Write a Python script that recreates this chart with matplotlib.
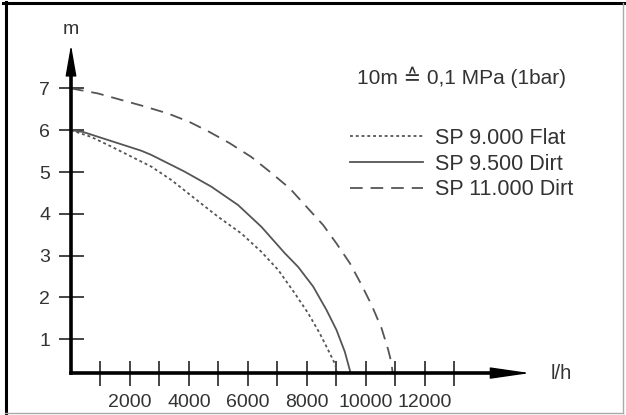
import matplotlib
matplotlib.use('Agg')
import matplotlib.pyplot as plt
from matplotlib.lines import Line2D

plt.rcParams['font.family'] = ['Liberation Sans', 'DejaVu Sans']

# ── data (flow l/h, head m) ─────────────────────────────────────────────────
FLOW_FLAT = [0, 683, 1363, 2722, 3402, 4193, 4988, 5780, 6460, 7027, 7591,
             8046, 8440, 8726, 8950, 9042]
HEAD_FLAT = [6.0, 5.84, 5.61, 5.13, 4.81, 4.37, 3.93, 3.53, 3.09, 2.66, 2.10,
             1.62, 1.14, 0.74, 0.42, 0.19]

FLOW_9500 = [0, 401, 2382, 2722, 3853, 4760, 5668, 6459, 7251, 7706, 8216,
             8668, 9008, 9290, 9460, 9484]
HEAD_9500 = [6.0, 5.96, 5.51, 5.41, 5.01, 4.65, 4.21, 3.69, 3.06, 2.73, 2.26,
             1.70, 1.22, 0.70, 0.26, 0.19]

FLOW_11000 = [0, 911, 2440, 3289, 4013, 4692, 5382, 6117, 6741, 7421, 7988,
              8556, 9008, 9460, 9857, 10197, 10537, 10765, 10877, 10911]
HEAD_11000 = [7.0, 6.88, 6.58, 6.40, 6.20, 5.96, 5.69, 5.36, 5.01, 4.61, 4.17,
              3.73, 3.29, 2.82, 2.30, 1.82, 1.26, 0.74, 0.42, 0.19]

LABELS = ['SP 9.000 Flat', 'SP 9.500 Dirt', 'SP 11.000 Dirt']
X_TICKS = list(range(1000, 14000, 1000))
X_TICKLABELS = [str(v) if v % 2000 == 0 else '' for v in X_TICKS]
Y_TICKS = list(range(1, 8))
NOTE = '10m \u2259 0,1 MPa (1bar)'

# ── layout constants ────────────────────────────────────────────────────────
W, H = 626, 415
BASE_H = 0.19          # height at which the flow axis is drawn
X_LIM = (-2409, 18830)
Y_LIM = (-0.813, 9.115)
CURVE = '#555555'
TXT = '#333333'

fig = plt.figure(figsize=(W / 100, H / 100), dpi=100)
ax = fig.add_axes([0, 0, 1, 1])
ax.patch.set_alpha(0)
ax.set_xlim(*X_LIM)
ax.set_ylim(*Y_LIM)

ax.plot(FLOW_FLAT, HEAD_FLAT, color=CURVE, lw=1.3, dashes=(1.6, 1.6),
        label=LABELS[0])
ax.plot(FLOW_9500, HEAD_9500, color=CURVE, lw=1.3, label=LABELS[1])
ax.plot(FLOW_11000, HEAD_11000, color=CURVE, lw=1.3, dashes=(7, 4.4),
        label=LABELS[2])

# axes as crossing lines with arrows
for s in ('top', 'right'):
    ax.spines[s].set_visible(False)
ax.spines['left'].set_position(('data', 0))
ax.spines['bottom'].set_position(('data', BASE_H))
ax.spines['left'].set_bounds(BASE_H, 7.39)
ax.spines['bottom'].set_bounds(0, 14385)
for s in ('left', 'bottom'):
    ax.spines[s].set_linewidth(2.6)
    ax.spines[s].set_color('k')

ax.annotate('', xy=(15572, BASE_H), xytext=(14385, BASE_H),
            arrowprops=dict(arrowstyle='-|>,head_length=25,head_width=3.6',
                            mutation_scale=1, lw=1, color='k',
                            shrinkA=0, shrinkB=0))
ax.annotate('', xy=(0, 8.04), xytext=(0, 7.39),
            arrowprops=dict(arrowstyle='-|>,head_length=19.4,head_width=3.4',
                            mutation_scale=1, lw=1, color='k',
                            shrinkA=0, shrinkB=0))

ax.set_xticks(X_TICKS)
ax.set_xticklabels(X_TICKLABELS)
ax.set_yticks(Y_TICKS)
ax.tick_params(direction='inout', length=18, width=1.4, color='#444444',
               labelsize=14, labelcolor=TXT, pad=6)

ax.text(16624, BASE_H, 'l/h', ha='center', va='center', fontsize=14.5,
        color=TXT)
ax.text(0, 8.40, 'm', ha='center', va='center', fontsize=14, color=TXT)

fig.text(357 / W, 1 - 77 / H, NOTE, ha='left', va='center', fontsize=15,
         color=TXT)

leg = ax.legend(loc='upper left', bbox_to_anchor=(350 / W, 1 - 128 / H),
                bbox_transform=fig.transFigure, frameon=False, borderpad=0,
                borderaxespad=0, handlelength=3.4, handletextpad=0.55,
                labelspacing=0.22, fontsize=15.5)
for t in leg.get_texts():
    t.set_color(TXT)

# picture frame
fig.add_artist(Line2D([3 / W, 624 / W], [1 - 3.5 / H, 1 - 3.5 / H],
                      transform=fig.transFigure, color='k', lw=2.2))
fig.add_artist(Line2D([5.5 / W, 5.5 / W], [0, 1 - 2 / H],
                      transform=fig.transFigure, color='k', lw=2.2))
fig.add_artist(Line2D([622.5 / W, 622.5 / W], [2 / H, 1 - 3 / H],
                      transform=fig.transFigure, color='#aaaaaa', lw=1))
fig.add_artist(Line2D([5 / W, 623 / W], [2.5 / H, 2.5 / H],
                      transform=fig.transFigure, color='#aaaaaa', lw=1))

fig.savefig('out.png', dpi=100)
